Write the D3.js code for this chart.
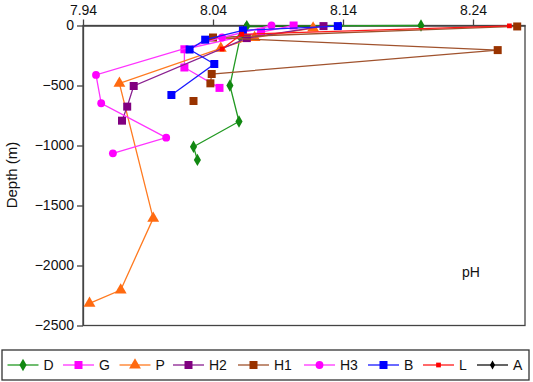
<!DOCTYPE html>
<html><head><meta charset="utf-8">
<script src="https://cdn.jsdelivr.net/npm/d3@7"></script>
<style>
html,body{margin:0;padding:0;background:#fff;}
svg text{font-family:"Liberation Sans",Arial,Helvetica,sans-serif;fill:#111;}
</style></head>
<body><svg id="c" width="533" height="382"></svg>
<script>
// ---- data ----
const seriesNames = ["D","G","P","H2","H1","H3","B","L","A"];
const xTicks = [7.94, 8.04, 8.14, 8.24];
const yTicks = [0, -500, -1000, -1500, -2000, -2500];

const pH_D = [8.200, 8.066, 8.061, 8.053, 8.060, 8.025, 8.028];
const depth_D = [0, -5, -95, -500, -800, -1010, -1120];

const pH_G = [8.102, 8.077, 8.018, 8.018, 8.045];
const depth_G = [0, -55, -198, -350, -520];

const pH_P = [8.117, 8.072, 8.046, 7.968, 7.994, 7.969, 7.945];
const depth_P = [-22, -100, -190, -482, -1607, -2204, -2315];

const pH_H2 = [8.125, 8.066, 7.979, 7.974, 7.970];
const depth_H2 = [-5, -105, -504, -676, -793];

const pH_H1 = [8.274, 8.040, 8.259, 8.039, 8.038, null, 8.025];
const depth_H1 = [-8, -100, -205, -404, -482, null, -629];

const pH_H3 = [8.085, 8.047, 7.950, 7.954, 8.004, 7.963];
const depth_H3 = [0, -100, -412, -648, -935, -1065];

const pH_B = [8.136, 8.063, 8.034, 8.022, 8.041, 8.008];
const depth_B = [-5, -40, -118, -200, -321, -579];

const pH_L = [8.268, 8.062, 8.047];
const depth_L = [-3, -73, -196];

const pH_A = [8.138, 8.065, 8.062];
const depth_A = [-3, -10, -45];

const colors = ["#118811","#ff00ff","#ff6a10","#800080","#993300","#ff00ff","#0000ff","#ff0000","#000000"];
const lineColors = ["#229922","#ff33ff","#ff7a20","#8a2090","#a0522d","#ff33ff","#1a1aff","#ff1a1a","#111111"];
const markers = ["diamond","square","triangle","square","square","circle","square","smallsquare","diamond"];

const pHs = [pH_D,pH_G,pH_P,pH_H2,pH_H1,pH_H3,pH_B,pH_L,pH_A];
const depths = [depth_D,depth_G,depth_P,depth_H2,depth_H1,depth_H3,depth_B,depth_L,depth_A];

// ---- chart ----
const svg = d3.select("#c");
const x = d3.scaleLinear().domain([7.94, 8.28]).range([83, 525]);
const y = d3.scaleLinear().domain([-2500, 0]).range([325.5, 25.5]);

svg.append("rect").attr("x", x(7.94)).attr("y", y(0))
  .attr("width", x(8.28)-x(7.94)).attr("height", y(-2500)-y(0))
  .attr("fill","none").attr("stroke","#444").attr("stroke-width",1.3);

const fmtX = d3.format(".2f");
const xAxis = svg.append("g").attr("transform", `translate(0,${y(0)})`)
  .call(d3.axisTop(x).tickValues(xTicks).tickFormat(fmtX).tickSizeInner(6).tickSizeOuter(0).tickPadding(5));
const yAxis = svg.append("g").attr("transform", `translate(${x(7.94)},0)`)
  .call(d3.axisLeft(y).tickValues(yTicks).tickFormat(d3.format("d")).tickSizeInner(6).tickSizeOuter(0).tickPadding(3));
[xAxis, yAxis].forEach(g => {
  g.select(".domain").attr("stroke","#444").attr("stroke-width",1.3);
  g.selectAll(".tick line").attr("stroke","#444").attr("stroke-width",1.3);
  g.selectAll(".tick text").attr("font-size",14).attr("fill","#111")
    .attr("font-family",'"Liberation Sans",Arial,sans-serif');
});

function markerPath(type, size) {
  const s = size;
  switch(type) {
    case "diamond": return d3.symbol(d3.symbolDiamond, s*s*0.9)();
    case "square": return d3.symbol(d3.symbolSquare, s*s)();
    case "smallsquare": return d3.symbol(d3.symbolSquare, s*s*0.35)();
    case "triangle": return d3.symbol(d3.symbolTriangle, s*s*0.75)();
    case "circle": return d3.symbol(d3.symbolCircle, s*s*0.75)();
  }
}
const mSize = [7, 8, 9, 8, 8, 8, 8, 8, 5];

const line = d3.line().defined(d => d[0] != null).x(d => x(d[0])).y(d => y(d[1]));

// draw A first (underneath), then the rest in legend order
const drawOrder = [8, 0, 1, 2, 3, 4, 5, 6, 7];
drawOrder.forEach(i => {
  const pts = pHs[i].map((v, j) => [v, depths[i][j]]);
  const g = svg.append("g");
  g.append("path").attr("d", line(pts)).attr("fill","none")
    .attr("stroke", lineColors[i]).attr("stroke-width", 1.3);
  g.selectAll("path.m").data(pts.filter(d => d[0] != null)).join("path").attr("class","m")
    .attr("transform", d => `translate(${x(d[0])},${y(d[1])})`)
    .attr("d", markerPath(markers[i], mSize[i]))
    .attr("fill", colors[i]);
});

svg.append("text").attr("x", 462).attr("y", 277).attr("font-size", 14).text("pH");

svg.append("text").attr("transform","translate(17,175) rotate(-90)")
  .attr("text-anchor","middle").attr("font-size",15).text("Depth (m)");

const leg = svg.append("g");
leg.append("rect").attr("x",2).attr("y",350).attr("width",527).attr("height",30)
  .attr("fill","#fff").attr("stroke","#333").attr("stroke-width",1.3);
const legX = [7.5, 63, 119.5, 173, 238, 304, 368, 423, 477];
seriesNames.forEach((name, i) => {
  const lx = legX[i], ly = 365;
  leg.append("line").attr("x1", lx).attr("x2", lx+31).attr("y1", ly).attr("y2", ly)
    .attr("stroke", lineColors[i]).attr("stroke-width", 1.3);
  leg.append("path").attr("transform", `translate(${lx+15.5},${ly})`)
    .attr("d", markerPath(markers[i], mSize[i])).attr("fill", colors[i]);
  leg.append("text").attr("x", lx+36).attr("y", ly+5).attr("font-size", 14).text(name);
});
</script></body></html>
